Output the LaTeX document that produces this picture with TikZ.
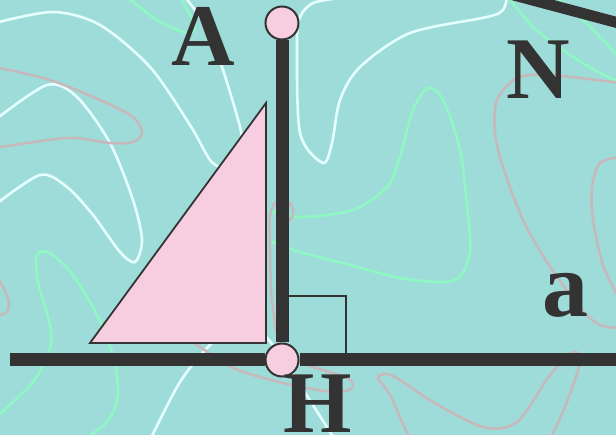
\documentclass[tikz,border=0pt]{standalone}
\usepackage{fontspec}
\setmainfont{Liberation Serif}
\usetikzlibrary{positioning}
\definecolor{cSea}{HTML}{9EDCDA}
\definecolor{cInk}{HTML}{333333}
\definecolor{cRose}{HTML}{F6CEDF}
\definecolor{cFoam}{HTML}{E4FFFD}
\definecolor{cMint}{HTML}{8EF7C2}
\definecolor{cAsh}{HTML}{C6B9BC}
\tikzset{
	wave/.style ={line width=2.6pt, line cap=round},
	bar/.style  ={line width=13pt, draw=cInk},
	dot/.style  ={circle, draw=cInk, line width=2pt, fill=cRose, minimum size=33pt, inner sep=0pt},
	lbl/.style  ={text=cInk, font=\bfseries\fontsize{88}{88}\selectfont, inner sep=0pt, anchor=base},
	tick/.style ={draw=cInk, line width=1.6pt},
	wedge/.style={draw=cInk, line width=1.8pt, fill=cRose, line join=miter},
}
\begin{document}
\begin{tikzpicture}[x=1pt, y=-1pt]
	\useasboundingbox (0,0) rectangle (616,435);
	\fill[cSea] (0,0) rectangle (616,435);
	\begin{scope}
		\clip (0,0) rectangle (616,435);
		% squiggles
		\draw[wave, cFoam] plot[smooth] coordinates {(-5,23) (53,12) (100,25) (150,67) (190,125) (210,160) (222,168)};
		\draw[wave, cFoam] plot[smooth] coordinates {(185,-3) (205,25) (222,67) (240,127) (245,160)};
		\draw[wave, cFoam] plot[smooth] coordinates {(-5,120) (47,85) (77,97) (110,143) (133,200) (142,240) (135,262) (120,252) (93,215) (67,187) (40,175) (-5,205)};
		\draw[wave, cFoam] plot[smooth] coordinates {(150,440) (180,382) (210,345) (240,322) (267,338) (300,385) (335,440)};
		\draw[wave, cFoam] plot[smooth] coordinates {(340,-2) (313,3) (300,17) (297,43) (300,133) (323,163) (332,143) (340,100) (360,67) (410,33) (487,17) (503,10) (507,-3)};
		\draw[wave, cMint] plot[smooth] coordinates {(127,-3) (157,20) (187,33) (195,25) (180,-3)};
		\draw[wave, cMint] plot[smooth] coordinates {(267,240) (300,252) (350,265) (400,278) (440,282) (460,277) (470,252) (468,215) (460,150) (443,100) (428,88) (413,110) (400,157) (387,187) (353,210) (300,217) (270,210)};
		\draw[wave, cMint] plot[smooth] coordinates {(83,440) (107,422) (118,395) (113,355) (97,315) (73,275) (50,253) (37,255) (38,282) (50,325) (50,348) (33,382) (-5,418)};
		\draw[wave, cMint] plot[smooth] coordinates {(508,-3) (533,27) (567,53) (600,73) (620,82)};
		\draw[wave, cMint] plot[smooth] coordinates {(555,-3) (580,17) (600,37) (620,58)};
		\draw[wave, cAsh] plot[smooth] coordinates {(-5,67) (50,80) (100,100) (133,117) (142,133) (133,142) (110,143) (67,138) (-5,148)};
		\draw[wave, cAsh] plot[smooth] coordinates {(-5,272) (8,298) (7,312) (-5,316)};
		\draw[wave, cAsh] plot[smooth] coordinates {(170,330) (197,345) (233,368) (283,383) (333,392) (352,388) (347,378) (300,362) (280,345) (272,300) (270,250) (270,215) (278,200) (290,203) (293,215) (285,224)};
		\draw[wave, cAsh] plot[smooth] coordinates {(620,83) (550,75) (517,78) (497,100) (495,133) (503,167) (523,220) (547,262) (580,308) (600,325) (620,328)};
		\draw[wave, cAsh] plot[smooth] coordinates {(620,157) (600,163) (592,187) (593,220) (603,265) (620,300)};
		\draw[wave, cAsh] plot[smooth] coordinates {(410,440) (390,395) (378,378) (387,374) (400,380) (433,402) (483,427) (517,422) (550,375) (573,352) (580,362) (567,402) (550,440)};
		% edge of the sheet
		\coordinate (s1) at (480,-14);
		\coordinate (s2) at (660,34);
		\draw[bar, line width=11pt] (s1) -- (s2);
	\end{scope}

	\draw[wedge] (90,343) -- (266,103) -- (266,343) -- cycle;

	\node[dot] (A) at (282,23) {};
	\node[dot] (H) at (282,360) {};
	\coordinate (L) at (10,360);
	\coordinate (R) at (620,360);
	\draw[tick] (H.center) ++(0,-64) -| ++(64,64);
	\draw[bar] (A) -- (H);
	\draw[bar] (L) -- (H); \draw[bar] (H) -- (R);

	\node[lbl] (lA) at (203,66) {A};
	\node[lbl] (lN) at (538,99) {N};
	\node[lbl, font=\bfseries\fontsize{92}{92}\selectfont] (la) at (565,317) {a};
	\node[lbl] (lH) at (318,433) {H};
\end{tikzpicture}
\end{document}
